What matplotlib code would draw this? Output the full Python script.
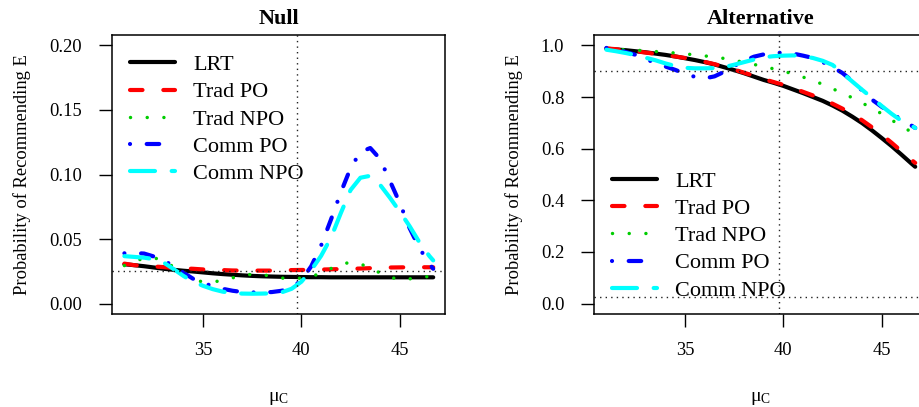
import numpy as np
import matplotlib
matplotlib.use("Agg")
import matplotlib.pyplot as plt

plt.rcParams['font.family'] = ['Liberation Serif', 'DejaVu Serif']
plt.rcParams['mathtext.fontset'] = 'custom'
plt.rcParams['mathtext.rm'] = 'Liberation Serif'
plt.rcParams['mathtext.it'] = 'Liberation Serif:italic'

# ---------------- data ----------------
mu_c = [31.0, 31.5, 32.0, 32.5, 33.0, 33.5, 34.0, 34.5, 35.0, 35.5, 36.0, 36.5,
        37.0, 37.5, 38.0, 38.5, 39.0, 39.5, 40.0, 40.5, 41.0, 41.5, 42.0, 42.5,
        43.0, 43.5, 44.0, 44.5, 45.0, 45.5, 46.0, 46.5, 46.7]

series_names = ["LRT", "Trad PO", "Trad NPO", "Comm PO", "Comm NPO"]

null_lrt = [0.0305, 0.0298, 0.0290, 0.0280, 0.0270, 0.0262, 0.0255, 0.0249, 0.0242, 0.0235, 0.0229, 0.0224,
            0.0219, 0.0215, 0.0212, 0.0210, 0.0208, 0.0207, 0.0206, 0.0205, 0.0205, 0.0204, 0.0204, 0.0204,
            0.0204, 0.0204, 0.0204, 0.0204, 0.0204, 0.0204, 0.0204, 0.0204, 0.0204]
null_trad_po = [0.0310, 0.0298, 0.0292, 0.0288, 0.0283, 0.0276, 0.0273, 0.0270, 0.0265, 0.0262, 0.0260, 0.0257,
                0.0256, 0.0256, 0.0256, 0.0256, 0.0258, 0.0260, 0.0261, 0.0262, 0.0264, 0.0266, 0.0268, 0.0270,
                0.0272, 0.0275, 0.0277, 0.0280, 0.0281, 0.0282, 0.0282, 0.0282, 0.0282]
null_trad_npo = [0.0295, 0.0330, 0.0350, 0.0356, 0.0330, 0.0285, 0.0230, 0.0190, 0.0167, 0.0168, 0.0180, 0.0200,
                 0.0218, 0.0228, 0.0225, 0.0212, 0.0198, 0.0193, 0.0198, 0.0210, 0.0236, 0.0272, 0.0305, 0.0320,
                 0.0308, 0.0275, 0.0238, 0.0205, 0.0186, 0.0192, 0.0205, 0.0210, 0.0210]
null_comm_po = [0.0390, 0.0392, 0.0388, 0.0365, 0.0335, 0.0290, 0.0240, 0.0192, 0.0160, 0.0135, 0.0115, 0.0100,
                0.0090, 0.0087, 0.0087, 0.0090, 0.0100, 0.0125, 0.0180, 0.0290, 0.0450, 0.0650, 0.0860, 0.1050,
                0.1175, 0.1205, 0.1120, 0.0950, 0.0780, 0.0585, 0.0430, 0.0310, 0.0270]
null_comm_npo = [0.0368, 0.0362, 0.0356, 0.0345, 0.0318, 0.0268, 0.0215, 0.0170, 0.0138, 0.0112, 0.0093, 0.0082,
                 0.0078, 0.0077, 0.0078, 0.0080, 0.0088, 0.0115, 0.0170, 0.0260, 0.0370, 0.0510, 0.0700, 0.0880,
                 0.0975, 0.0990, 0.0920, 0.0820, 0.0713, 0.0600, 0.0475, 0.0370, 0.0335]

alt_lrt = [0.987, 0.984, 0.981, 0.977, 0.973, 0.968, 0.963, 0.957, 0.950, 0.943, 0.935, 0.926,
           0.915, 0.904, 0.892, 0.879, 0.866, 0.855, 0.843, 0.829, 0.815, 0.800, 0.785, 0.767,
           0.747, 0.724, 0.699, 0.671, 0.641, 0.610, 0.577, 0.543, 0.530]
alt_trad_po = [0.988, 0.985, 0.981, 0.977, 0.972, 0.967, 0.962, 0.957, 0.951, 0.944, 0.936, 0.927,
               0.917, 0.906, 0.894, 0.882, 0.869, 0.858, 0.847, 0.834, 0.820, 0.806, 0.791, 0.774,
               0.755, 0.734, 0.710, 0.683, 0.654, 0.623, 0.590, 0.557, 0.545]
alt_trad_npo = [0.987, 0.985, 0.983, 0.981, 0.979, 0.976, 0.974, 0.970, 0.967, 0.963, 0.959, 0.955,
                0.949, 0.942, 0.934, 0.926, 0.918, 0.909, 0.900, 0.889, 0.877, 0.864, 0.849, 0.832,
                0.815, 0.797, 0.777, 0.757, 0.735, 0.711, 0.687, 0.665, 0.657]
alt_comm_po = [0.990, 0.983, 0.974, 0.963, 0.948, 0.930, 0.918, 0.905, 0.890, 0.878, 0.872, 0.880,
               0.898, 0.920, 0.940, 0.956, 0.965, 0.970, 0.972, 0.968, 0.960, 0.951, 0.935, 0.915,
               0.893, 0.862, 0.825, 0.790, 0.762, 0.738, 0.712, 0.690, 0.680]
alt_comm_npo = [0.983, 0.977, 0.970, 0.962, 0.952, 0.942, 0.930, 0.920, 0.913, 0.911, 0.911, 0.912,
                0.916, 0.925, 0.935, 0.945, 0.954, 0.958, 0.960, 0.961, 0.958, 0.951, 0.940, 0.924,
                0.893, 0.860, 0.828, 0.797, 0.765, 0.735, 0.708, 0.690, 0.680]

null_series = [null_lrt, null_trad_po, null_trad_npo, null_comm_po, null_comm_npo]
alt_series = [alt_lrt, alt_trad_po, alt_trad_npo, alt_comm_po, alt_comm_npo]

null_yticks = [0.00, 0.05, 0.10, 0.15, 0.20]
alt_yticks = [0.0, 0.2, 0.4, 0.6, 0.8, 1.0]
xticks = [35, 40, 45]
vline_x = 39.8
null_hlines = [0.025]
alt_hlines = [0.9, 0.025]

# ---------------- styles ----------------
colors = ["black", "#FF0000", "#00CD00", "#0000FF", "#00FFFF"]
lws = [3.0, 3.0, 2.5, 3.0, 3.0]
dashes = [None, (3, 5), (0.01, 4.8), (0.01, 4, 3, 4), (6, 4)]

W, H = 919, 407
fig = plt.figure(figsize=(W / 100, H / 100), dpi=100)

def make_axes(left_px, title, series, yticks, ylim, yfmt, hlines, leg_anchor):
    ax = fig.add_axes([left_px / W, (H - 314) / H, 333 / W, 279 / H])
    for name, ys, c, lw, d in zip(series_names, series, colors, lws, dashes):
        line, = ax.plot(mu_c, ys, color=c, lw=lw, label=name,
                        solid_capstyle='round', dash_capstyle='round')
        if d is not None:
            line.set_dashes(d)
    ax.axvline(vline_x, color='#222222', lw=1.0, dashes=(1, 3))
    for h in hlines:
        ax.axhline(h, color='#222222', lw=1.0, dashes=(1, 3))
    ax.set_xlim(30.37, 47.3)
    ax.set_ylim(*ylim)
    ax.set_xticks(xticks)
    ax.set_yticks(yticks)
    ax.set_yticklabels([yfmt.format(v) for v in yticks])
    ax.tick_params(direction='out', length=9.4, width=1.0, labelsize=13.3, pad=11)
    ax.tick_params(axis='y', pad=12)
    for s in ax.spines.values():
        s.set_linewidth(1.1)
    ax.set_title(title, fontsize=16, fontweight='bold', pad=8)
    ax.set_xlabel(r'$\mathrm{\mu_C}$', fontsize=14, labelpad=22)
    ax.set_ylabel('Probability of Recommending E', fontsize=13.3, labelpad=13)
    ax.legend(loc='upper left', bbox_to_anchor=leg_anchor, frameon=False,
              fontsize=16, handlelength=2.03, handletextpad=0.81,
              labelspacing=0.3, borderpad=0, borderaxespad=0)
    return ax

make_axes(112, "Null", null_series, null_yticks, (-0.008, 0.208), "{:.2f}",
          null_hlines, (0.054, 0.930))
make_axes(594, "Alternative", alt_series, alt_yticks, (-0.04, 1.04), "{:.1f}",
          alt_hlines, (0.055, 0.512))

fig.savefig("out.png", dpi=100)
